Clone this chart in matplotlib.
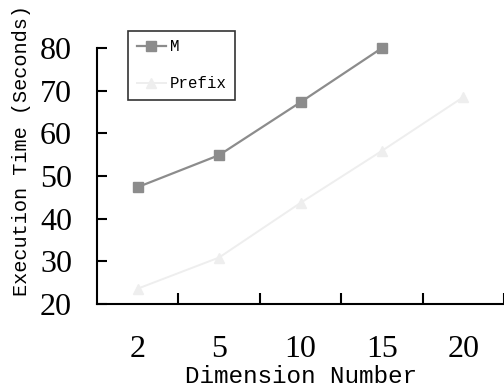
import matplotlib.pyplot as plt
import numpy as np

# execution time per dimension count
dimensions = ['2', '5', '10', '15', '20']
m_times = [47.4, 54.9, 67.3, 80.0]
prefix_times = [23.6, 30.9, 43.7, 55.9, 68.5]

mono = 'Liberation Mono'
serif = 'Liberation Serif'

fig = plt.figure(figsize=(5.04, 3.89), dpi=100)
ax = fig.add_axes([0.1925, 0.2185, 0.8075, 0.658])

xpos = np.arange(len(dimensions))
ax.plot(xpos[:len(m_times)], m_times, color='#8c8c8c', lw=1.6,
        marker='s', markersize=7, label='M', clip_on=False, zorder=3)
ax.plot(xpos, prefix_times, color='#eeeeee', lw=1.4,
        marker='^', markersize=7.5, label='Prefix', clip_on=False, zorder=2)

ax.set_xlim(-0.5, 4.48)
ax.set_ylim(20, 80)

# category labels sit at the centres, tick marks between categories
ax.set_xticks(xpos + 0.5)
ax.set_xticklabels([])
ax.set_xticks(xpos, minor=True)
ax.set_xticklabels(dimensions, minor=True, fontfamily=serif, fontsize=23)
ax.tick_params(axis='x', which='major', direction='in', length=8, width=1.5)
ax.tick_params(axis='x', which='minor', length=0, pad=22)

ax.set_yticks([20, 30, 40, 50, 60, 70, 80])
ax.set_yticklabels(['20', '30', '40', '50', '60', '70', '80'],
                   fontfamily=serif, fontsize=23)
ax.tick_params(axis='y', direction='in', length=7, width=1.5, pad=18)

for side in ['top', 'right']:
    ax.spines[side].set_visible(False)
for side in ['left', 'bottom']:
    ax.spines[side].set_linewidth(1.5)

ax.set_xlabel('Dimension Number', fontfamily=mono, fontsize=17.5)
ax.xaxis.set_label_coords(0.5, -0.24)
ax.set_ylabel('Execution Time (Seconds)', fontfamily=mono, fontsize=14.6,
              va='center')
ax.yaxis.set_label_coords(-0.185, 0.598)

leg = ax.legend(loc='upper left', bbox_to_anchor=(0.076, 1.068),
                prop={'family': mono, 'size': 11.3}, frameon=True,
                fancybox=False, borderpad=0.55, labelspacing=1.4,
                handlelength=1.9, handletextpad=0.2, borderaxespad=0)
leg.get_frame().set_edgecolor('black')
leg.get_frame().set_linewidth(1.2)

fig.savefig('out.png', dpi=100)
